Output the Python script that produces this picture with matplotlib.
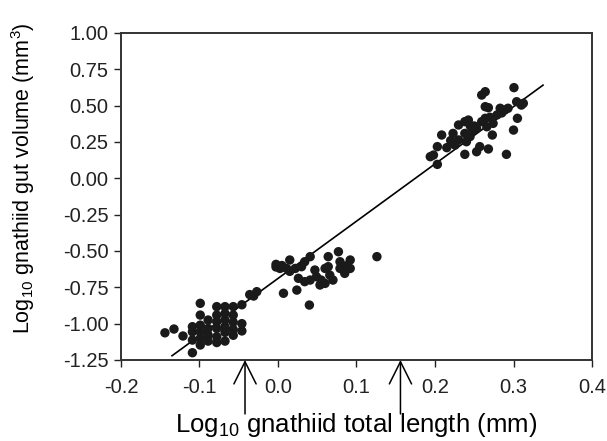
import matplotlib
matplotlib.use('Agg')
import matplotlib.pyplot as plt
import numpy as np

plt.rcParams['font.family'] = ['Liberation Sans', 'DejaVu Sans']
plt.rcParams['mathtext.default'] = 'regular'

# log10 total length (mm) vs log10 gut volume (mm^3)
# small gnathiids
x_small = [-0.144, -0.1325, -0.121, -0.109, -0.099, -0.099, -0.109, -0.109, -0.109, -0.099,
           -0.099, -0.099, -0.099, -0.089, -0.089, -0.089, -0.089, -0.078, -0.078, -0.078,
           -0.078, -0.078, -0.078, -0.0675, -0.0675, -0.0675, -0.0675, -0.0675, -0.0675, -0.057,
           -0.057, -0.057, -0.057, -0.057, -0.046, -0.046, -0.046, -0.036, -0.031, -0.027]
y_small = [-1.063, -1.037, -1.085, -1.200, -0.860, -0.941, -1.021, -1.056, -1.113, -1.010,
           -1.056, -1.101, -1.147, -0.975, -1.033, -1.078, -1.120, -0.883, -0.941, -0.987,
           -1.033, -1.090, -1.130, -0.883, -0.930, -0.975, -1.021, -1.060, -1.120, -0.883,
           -0.941, -0.990, -1.040, -1.080, -0.870, -1.000, -1.050, -0.800, -0.810, -0.780]

# medium gnathiids
x_mid = [-0.0025, 0.0025, -0.0025, 0.011, 0.015, 0.022, 0.030, 0.034, 0.041, 0.007,
         0.024, 0.040, 0.026, 0.034, 0.041, 0.047, 0.049, 0.0535, 0.060, 0.064,
         0.064, 0.066, 0.077, 0.079, 0.079, 0.092, 0.092, 0.085, 0.126, 0.055,
         0.070, 0.060, 0.088, 0.005, 0.015]
y_mid = [-0.592, -0.620, -0.610, -0.620, -0.562, -0.620, -0.608, -0.574, -0.539, -0.791,
         -0.769, -0.872, -0.688, -0.711, -0.700, -0.631, -0.677, -0.734, -0.723, -0.539,
         -0.608, -0.666, -0.505, -0.574, -0.620, -0.562, -0.620, -0.654, -0.539, -0.700,
         -0.700, -0.620, -0.600, -0.600, -0.640]

# large gnathiids
x_large = [0.194, 0.198, 0.203, 0.203, 0.2085, 0.215, 0.223, 0.2255, 0.230, 0.230,
           0.238, 0.2425, 0.238, 0.240, 0.2446, 0.238, 0.253, 0.257, 0.268, 0.253,
           0.2595, 0.264, 0.266, 0.2595, 0.264, 0.264, 0.268, 0.273, 0.274, 0.279,
           0.283, 0.289, 0.293, 0.291, 0.3006, 0.300, 0.305, 0.304, 0.310, 0.3125,
           0.245, 0.250, 0.270, 0.285, 0.220, 0.248]
y_large = [0.149, 0.160, 0.096, 0.218, 0.298, 0.211, 0.309, 0.229, 0.367, 0.264,
           0.390, 0.401, 0.309, 0.252, 0.287, 0.165, 0.183, 0.218, 0.202, 0.344,
           0.390, 0.413, 0.355, 0.573, 0.596, 0.493, 0.486, 0.298, 0.378, 0.436,
           0.482, 0.470, 0.482, 0.165, 0.624, 0.332, 0.413, 0.527, 0.504, 0.516,
           0.360, 0.360, 0.420, 0.450, 0.260, 0.330]

# regression line
intercept = -0.689
slope = 3.94
fit_x = [-0.135, 0.3376]

# arrows marking size-class boundaries
arrow_x = [-0.042, 0.156]

xticks = [-0.2, -0.1, 0.0, 0.1, 0.2, 0.3, 0.4]
yticks = [-1.25, -1.0, -0.75, -0.5, -0.25, 0.0, 0.25, 0.5, 0.75, 1.0]

fig = plt.figure(figsize=(6.07, 4.41), dpi=100)
ax = fig.add_axes([0.1993, 0.1837, 0.776, 0.7415])

xs = x_small + x_mid + x_large
ys = y_small + y_mid + y_large
ax.scatter(xs, ys, s=46, c='#1a1a1a', edgecolors='none', zorder=3)

fx = np.array(fit_x)
ax.plot(fx, intercept + slope * fx, color='black', lw=1.2, zorder=2)

ax.set_xlim(-0.2, 0.4)
ax.set_ylim(-1.25, 1.0)
ax.set_xticks(xticks)
ax.set_xticklabels(['%.1f' % v for v in xticks])
ax.set_yticks(yticks)
ax.set_yticklabels(['%.2f' % v for v in yticks])
ax.tick_params(direction='out', length=5, width=1, labelsize=14.5, colors='#222222')
ax.tick_params(axis='x', pad=8)
ax.tick_params(axis='y', pad=4)

for s in ax.spines.values():
    s.set_linewidth(1.4)
    s.set_color('#333333')

ax.set_xlabel(r'Log$_{10}$ gnathiid total length (mm)', fontsize=18.5, labelpad=10)
ax.set_ylabel(r'Log$_{10}$ gnathiid gut volume (mm$^3$)', fontsize=15.5)
ax.yaxis.set_label_coords(-0.178, 0.557)

for xa in arrow_x:
    ax.annotate('', xy=(xa, 0.0), xycoords=('data', 'axes fraction'),
                xytext=(xa, -0.165), textcoords=('data', 'axes fraction'),
                arrowprops=dict(arrowstyle='->,head_length=1.6,head_width=0.8',
                                color='black', lw=1.1, mutation_scale=10,
                                shrinkA=0, shrinkB=0),
                annotation_clip=False)

fig.savefig('out.png', dpi=100)
